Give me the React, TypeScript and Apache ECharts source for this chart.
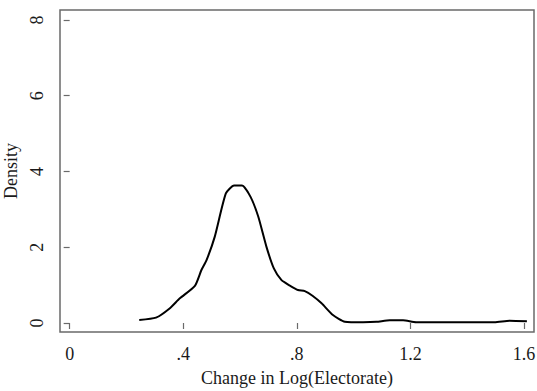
import React, { useEffect, useRef } from "react";
import * as echarts from "echarts";

const xValues = [0.245, 0.304, 0.353, 0.388, 0.441, 0.464, 0.482, 0.511, 0.55, 0.579, 0.607, 0.637, 0.664, 0.693, 0.719, 0.746, 0.775, 0.804, 0.828, 0.855, 0.887, 0.927, 0.969, 1.033, 1.08, 1.127, 1.174, 1.22, 1.3, 1.4, 1.496, 1.549, 1.61];
const densityValues = [0.08, 0.14, 0.39, 0.65, 0.98, 1.4, 1.66, 2.28, 3.42, 3.63, 3.63, 3.33, 2.81, 2.01, 1.44, 1.13, 0.99, 0.87, 0.84, 0.72, 0.52, 0.21, 0.035, 0.02, 0.03, 0.07, 0.07, 0.02, 0.02, 0.02, 0.02, 0.06, 0.045];
const xTicks = [0, 0.4, 0.8, 1.2, 1.6];
const yTicks = [0, 2, 4, 6, 8];

const fmtX = (v: number) => {
  if (v === 0) return "0";
  const s = String(Math.round(v * 10) / 10);
  return s.startsWith("0.") ? s.slice(1) : s;
};

export default function App() {
  const ref = useRef<HTMLDivElement>(null);
  useEffect(() => {
    if (!ref.current) return;
    const chart = echarts.init(ref.current, null, { renderer: "svg" });
    const font = "'Liberation Serif', 'DejaVu Serif', serif";
    chart.setOption({
      animation: false,
      backgroundColor: "#ffffff",
      grid: {
        left: 60,
        top: 10,
        right: 3,
        bottom: 59,
        outerBoundsMode: "none",
        containLabel: false,
        show: true,
        borderColor: "#6a6a6a",
        borderWidth: 1.5,
        backgroundColor: "#ffffff",
      },
      xAxis: {
        type: "value",
        min: -0.034,
        max: 1.635,
        name: "Change in Log(Electorate)",
        nameLocation: "middle",
        nameGap: 37,
        nameTextStyle: { fontFamily: font, fontSize: 18, color: "#1a1a1a" },
        axisLine: { show: false },
        splitLine: { show: false },
        axisTick: {
          show: true,
          length: 6,
          lineStyle: { color: "#6a6a6a", width: 1.2 },
          customValues: xTicks,
        },
        axisLabel: {
          customValues: xTicks,
          formatter: fmtX,
          fontFamily: font,
          fontSize: 18,
          color: "#1a1a1a",
          margin: 13,
        },
      },
      yAxis: {
        type: "value",
        min: -0.238,
        max: 8.264,
        name: "Density",
        nameLocation: "middle",
        nameGap: 37,
        nameTextStyle: { fontFamily: font, fontSize: 18, color: "#1a1a1a" },
        axisLine: { show: false },
        splitLine: { show: false },
        axisTick: {
          show: true,
          length: 6,
          lineStyle: { color: "#6a6a6a", width: 1.2 },
          customValues: yTicks,
        },
        axisLabel: {
          customValues: yTicks,
          rotate: 90,
          fontFamily: font,
          fontSize: 18,
          color: "#1a1a1a",
          margin: 14,
        },
      },
      series: [
        {
          type: "line",
          data: xValues.map((x, i) => [x, densityValues[i]]),
          showSymbol: false,
          smooth: 0.2,
          lineStyle: { color: "#000000", width: 2 },
        },
      ],
    });
    return () => chart.dispose();
  }, []);
  return (
    <div
      ref={ref}
      style={{ position: "fixed", left: 0, top: 0, width: 537, height: 391 }}
    />
  );
}
